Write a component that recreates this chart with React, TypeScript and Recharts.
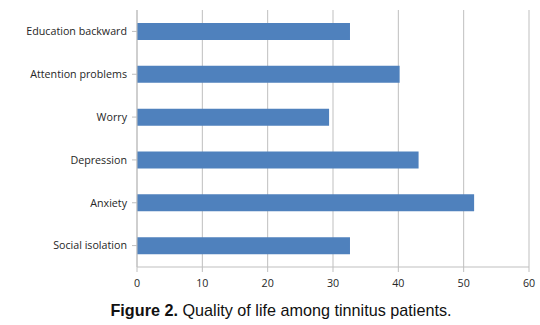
import { BarChart, Bar, XAxis, YAxis, CartesianGrid } from "recharts";

const categories = [
  "Education backward",
  "Attention problems",
  "Worry",
  "Depression",
  "Anxiety",
  "Social isolation",
];
const values = [32.6, 40.2, 29.4, 43.1, 51.6, 32.6];
const xTicks = [0, 10, 20, 30, 40, 50, 60];

const data = categories.map((name, i) => ({ name, value: values[i] }));

const axisColor = "#bfbfbf";
const tickStyle = { fontFamily: "Open Sans", fontSize: 10.7, fill: "#262626" };

export default function App() {
  return (
    <div style={{ position: "absolute", left: 0, top: 0, width: 540, height: 325, background: "#fff" }}>
      <BarChart
        width={540}
        height={295}
        data={data}
        layout="vertical"
        margin={{ top: 10, right: 11, left: 0, bottom: 8 }}
        barSize={17}
      >
        <CartesianGrid horizontal={false} stroke={axisColor} strokeWidth={1} />
        <XAxis
          type="number"
          domain={[0, 60]}
          ticks={xTicks}
          height={20}
          stroke={axisColor}
          tickSize={5}
          tickMargin={7}
          tick={tickStyle}
          interval={0}
        />
        <YAxis
          type="category"
          dataKey="name"
          width={137}
          stroke={axisColor}
          tickSize={5}
          tickMargin={5}
          tick={tickStyle}
          interval={0}
        />
        <Bar dataKey="value" fill="#4f81bd" isAnimationActive={false} />
      </BarChart>
      <div
        style={{
          position: "absolute",
          top: 301,
          left: 0,
          width: 562,
          textAlign: "center",
          fontFamily: "Liberation Sans",
          fontSize: 16.2,
          color: "#111",
        }}
      >
        <b>Figure 2.</b> Quality of life among tinnitus patients.
      </div>
    </div>
  );
}
